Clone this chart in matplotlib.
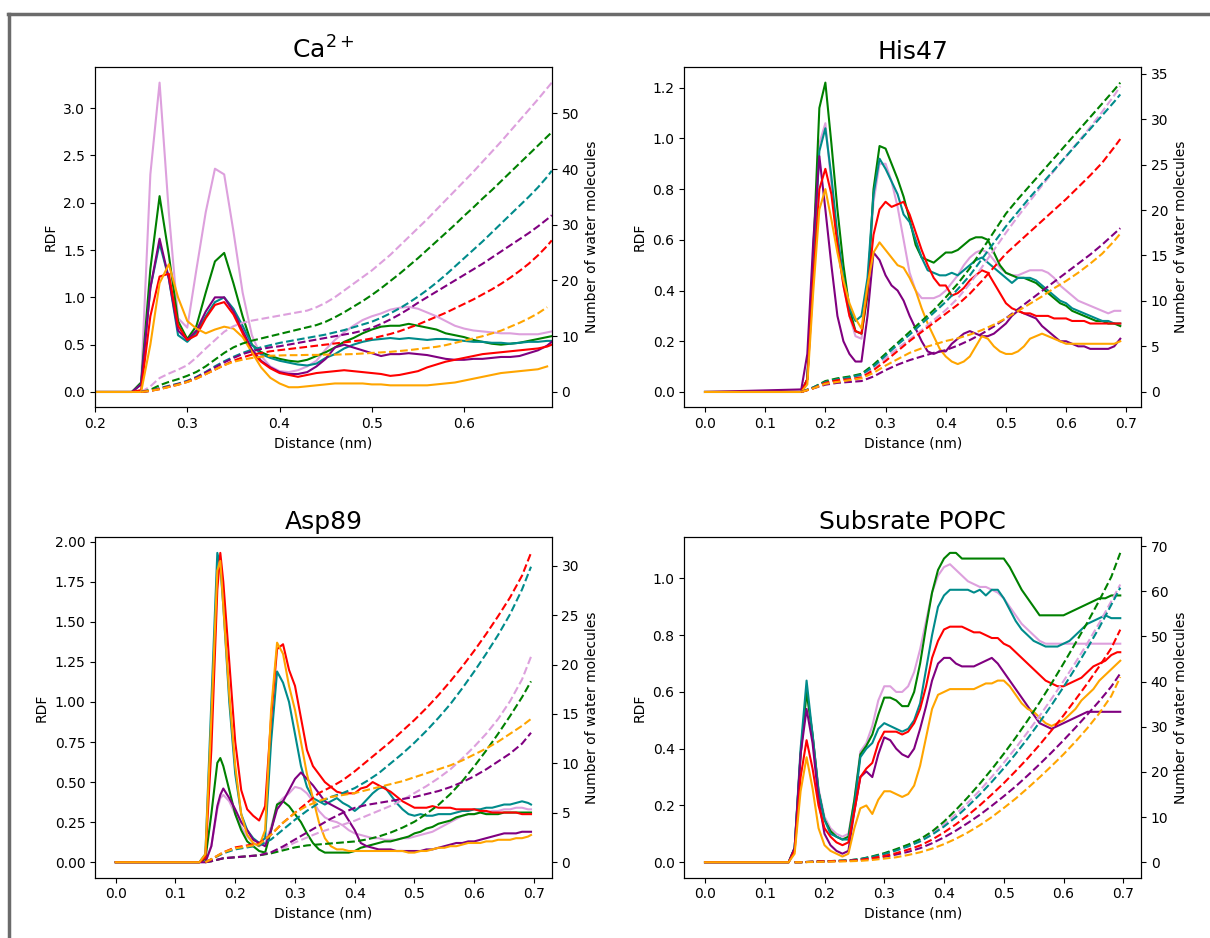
import matplotlib.pyplot as plt
from matplotlib.lines import Line2D
import numpy as np

colors = ["plum", "green", "darkcyan", "purple", "red", "orange"]

# ---- Ca2+ ----
ca_x = np.round(np.arange(0.20, 0.695, 0.01), 3).tolist() + [0.695]
ca_xn = np.round(np.arange(0.25, 0.695, 0.01), 3).tolist() + [0.695]
ca_rdf_plum = [0, 0, 0, 0, 0, 0.1, 2.3, 3.27, 1.9, 0.78, 0.68, 1.3, 1.9, 2.36, 2.3, 1.7, 1.05, 0.6, 0.38, 0.27, 0.22, 0.21, 0.23, 0.27, 0.33, 0.45, 0.55, 0.63, 0.7, 0.76, 0.8, 0.83, 0.87, 0.89, 0.9, 0.88, 0.84, 0.8, 0.75, 0.7, 0.67, 0.65, 0.64, 0.63, 0.62, 0.62, 0.61, 0.61, 0.61, 0.63, 0.64]
ca_rdf_green = [0, 0, 0, 0, 0, 0.1, 1.3, 2.07, 1.45, 0.75, 0.56, 0.7, 1.05, 1.38, 1.47, 1.15, 0.8, 0.5, 0.42, 0.38, 0.35, 0.33, 0.32, 0.34, 0.38, 0.42, 0.47, 0.53, 0.57, 0.62, 0.66, 0.69, 0.7, 0.7, 0.72, 0.7, 0.68, 0.66, 0.62, 0.6, 0.58, 0.55, 0.53, 0.51, 0.5, 0.51, 0.52, 0.54, 0.56, 0.58, 0.59]
ca_rdf_teal = [0, 0, 0, 0, 0, 0.08, 1.1, 1.57, 1.2, 0.6, 0.53, 0.63, 0.8, 0.95, 1.0, 0.88, 0.7, 0.5, 0.4, 0.36, 0.33, 0.31, 0.29, 0.28, 0.3, 0.36, 0.4, 0.46, 0.5, 0.53, 0.55, 0.56, 0.57, 0.56, 0.57, 0.56, 0.55, 0.56, 0.56, 0.55, 0.54, 0.53, 0.53, 0.52, 0.52, 0.51, 0.52, 0.53, 0.53, 0.54, 0.54]
ca_rdf_purple = [0, 0, 0, 0, 0, 0.08, 1.1, 1.62, 1.2, 0.65, 0.55, 0.65, 0.85, 1.0, 1.0, 0.85, 0.65, 0.45, 0.33, 0.26, 0.21, 0.19, 0.19, 0.21, 0.27, 0.35, 0.47, 0.5, 0.47, 0.44, 0.41, 0.38, 0.4, 0.4, 0.41, 0.4, 0.39, 0.37, 0.35, 0.34, 0.34, 0.35, 0.35, 0.36, 0.37, 0.37, 0.38, 0.41, 0.44, 0.49, 0.53]
ca_rdf_red = [0, 0, 0, 0, 0, 0.02, 0.8, 1.22, 1.25, 0.7, 0.55, 0.6, 0.78, 0.92, 0.95, 0.82, 0.62, 0.42, 0.32, 0.25, 0.2, 0.18, 0.16, 0.18, 0.2, 0.21, 0.22, 0.23, 0.22, 0.21, 0.2, 0.19, 0.17, 0.18, 0.2, 0.22, 0.26, 0.29, 0.32, 0.34, 0.36, 0.38, 0.4, 0.41, 0.42, 0.43, 0.44, 0.45, 0.46, 0.48, 0.5]
ca_rdf_orange = [0, 0, 0, 0, 0, 0.0, 0.5, 1.15, 1.35, 1.0, 0.75, 0.67, 0.62, 0.66, 0.69, 0.67, 0.58, 0.42, 0.26, 0.15, 0.09, 0.05, 0.05, 0.06, 0.07, 0.08, 0.09, 0.09, 0.09, 0.09, 0.08, 0.08, 0.07, 0.07, 0.07, 0.07, 0.07, 0.08, 0.09, 0.1, 0.12, 0.14, 0.16, 0.18, 0.2, 0.21, 0.22, 0.23, 0.24, 0.27, np.nan]
ca_num_plum = [0, 1.0, 2.5, 3.3, 4.0, 4.8, 6.2, 7.8, 9.3, 10.8, 11.8, 12.4, 12.8, 13.1, 13.4, 13.7, 14.0, 14.3, 14.6, 15.2, 16.0, 17.0, 18.2, 19.4, 20.6, 21.8, 23.2, 24.6, 26.2, 27.8, 29.4, 31.0, 32.7, 34.4, 36.1, 37.8, 39.5, 41.3, 43.1, 44.9, 46.8, 48.7, 50.6, 52.5, 54.5, 55.5]
ca_num_green = [0, 0.4, 1.2, 1.8, 2.3, 2.9, 3.6, 4.6, 5.8, 7.0, 8.0, 8.7, 9.2, 9.6, 10.0, 10.4, 10.8, 11.2, 11.6, 12.0, 12.6, 13.4, 14.3, 15.3, 16.3, 17.4, 18.6, 19.9, 21.2, 22.6, 24.0, 25.5, 27.0, 28.5, 30.0, 31.6, 33.1, 34.7, 36.2, 37.8, 39.4, 41.0, 42.6, 44.2, 45.8, 46.6]
ca_num_teal = [0, 0.2, 0.7, 1.1, 1.5, 2.0, 2.7, 3.6, 4.6, 5.5, 6.3, 7.0, 7.6, 8.0, 8.4, 8.8, 9.1, 9.4, 9.7, 10.0, 10.3, 10.7, 11.1, 11.6, 12.1, 12.6, 13.3, 14.1, 15.0, 16.0, 17.1, 18.3, 19.6, 21.0, 22.5, 24.0, 25.5, 27.0, 28.6, 30.2, 31.8, 33.4, 35.0, 36.7, 38.6, 39.7]
ca_num_purple = [0, 0.2, 0.6, 1.0, 1.4, 1.9, 2.6, 3.5, 4.4, 5.3, 6.1, 6.8, 7.3, 7.7, 8.0, 8.2, 8.5, 8.8, 9.1, 9.4, 9.7, 10.0, 10.3, 10.6, 11.0, 11.5, 12.2, 13.0, 13.9, 14.9, 16.0, 17.0, 18.0, 19.0, 20.0, 21.0, 22.0, 23.0, 24.1, 25.2, 26.3, 27.4, 28.5, 29.7, 31.0, 31.7]
ca_num_red = [0, 0.2, 0.5, 0.9, 1.3, 1.8, 2.4, 3.2, 4.0, 4.8, 5.6, 6.2, 6.7, 7.0, 7.3, 7.5, 7.7, 7.9, 8.1, 8.3, 8.5, 8.7, 8.9, 9.1, 9.3, 9.6, 10.0, 10.4, 10.9, 11.5, 12.1, 12.8, 13.5, 14.2, 15.0, 15.8, 16.6, 17.5, 18.4, 19.4, 20.5, 21.7, 23.0, 24.5, 26.2, 27.2]
ca_num_orange = [0, 0.2, 0.5, 0.9, 1.3, 1.8, 2.4, 3.2, 4.0, 4.8, 5.4, 5.8, 6.1, 6.3, 6.5, 6.55, 6.6, 6.6, 6.65, 6.65, 6.7, 6.7, 6.75, 6.8, 6.9, 7.0, 7.1, 7.2, 7.35, 7.5, 7.7, 7.9, 8.1, 8.4, 8.8, 9.2, 9.6, 10.0, 10.5, 11.0, 11.7, 12.4, 13.2, 14.1, 15.2, np.nan]

# ---- His47 ----
his_x = [0.0] + np.round(np.arange(0.16, 0.695, 0.01), 3).tolist()
his_xn = np.round(np.arange(0.16, 0.685, 0.02), 3).tolist() + [0.69]
his_rdf_plum = [0, 0.0, 0.05, 0.5, 0.98, 1.06, 0.82, 0.6, 0.42, 0.3, 0.22, 0.21, 0.42, 0.75, 0.9, 0.9, 0.83, 0.73, 0.6, 0.47, 0.4, 0.37, 0.37, 0.37, 0.38, 0.4, 0.43, 0.46, 0.5, 0.53, 0.55, 0.56, 0.55, 0.52, 0.49, 0.47, 0.46, 0.46, 0.47, 0.48, 0.48, 0.48, 0.47, 0.45, 0.42, 0.4, 0.38, 0.36, 0.35, 0.34, 0.33, 0.32, 0.31, 0.32, 0.32]
his_rdf_green = [0, 0.0, 0.05, 0.55, 1.12, 1.22, 0.98, 0.72, 0.5, 0.33, 0.24, 0.23, 0.38, 0.8, 0.97, 0.96, 0.9, 0.84, 0.77, 0.68, 0.58, 0.53, 0.52, 0.51, 0.53, 0.55, 0.55, 0.56, 0.58, 0.6, 0.61, 0.61, 0.6, 0.55, 0.5, 0.47, 0.46, 0.45, 0.45, 0.44, 0.43, 0.41, 0.39, 0.37, 0.35, 0.34, 0.32, 0.31, 0.3, 0.29, 0.28, 0.28, 0.27, 0.27, 0.26]
his_rdf_teal = [0, 0.0, 0.05, 0.5, 0.95, 1.04, 0.85, 0.62, 0.45, 0.33, 0.28, 0.3, 0.45, 0.78, 0.92, 0.88, 0.83, 0.78, 0.7, 0.67, 0.6, 0.53, 0.48, 0.47, 0.46, 0.46, 0.47, 0.46, 0.48, 0.5, 0.52, 0.53, 0.51, 0.49, 0.47, 0.45, 0.43, 0.45, 0.45, 0.45, 0.44, 0.42, 0.4, 0.38, 0.36, 0.35, 0.33, 0.32, 0.31, 0.3, 0.29, 0.28, 0.28, 0.27, 0.27]
his_rdf_purple = [0, 0.01, 0.15, 0.6, 0.93, 0.72, 0.5, 0.3, 0.2, 0.15, 0.12, 0.12, 0.3, 0.55, 0.52, 0.46, 0.42, 0.4, 0.36, 0.3, 0.25, 0.2, 0.16, 0.15, 0.16, 0.16, 0.19, 0.21, 0.23, 0.24, 0.23, 0.22, 0.22, 0.23, 0.25, 0.27, 0.3, 0.32, 0.31, 0.3, 0.29, 0.26, 0.24, 0.22, 0.2, 0.2, 0.19, 0.18, 0.18, 0.17, 0.17, 0.17, 0.17, 0.18, 0.21]
his_rdf_red = [0, 0.0, 0.05, 0.45, 0.8, 0.88, 0.78, 0.58, 0.42, 0.3, 0.24, 0.23, 0.4, 0.62, 0.72, 0.75, 0.73, 0.74, 0.75, 0.7, 0.63, 0.56, 0.5, 0.45, 0.42, 0.42, 0.38, 0.39, 0.41, 0.44, 0.46, 0.48, 0.47, 0.43, 0.39, 0.35, 0.33, 0.32, 0.31, 0.31, 0.3, 0.3, 0.3, 0.29, 0.29, 0.29, 0.28, 0.28, 0.28, 0.27, 0.27, 0.27, 0.27, 0.27, 0.27]
his_rdf_orange = [0, 0.0, 0.03, 0.4, 0.72, 0.8, 0.68, 0.55, 0.44, 0.35, 0.29, 0.25, 0.42, 0.55, 0.59, 0.56, 0.53, 0.5, 0.49, 0.45, 0.4, 0.33, 0.27, 0.22, 0.17, 0.14, 0.12, 0.11, 0.12, 0.14, 0.18, 0.22, 0.21, 0.18, 0.16, 0.15, 0.15, 0.16, 0.18, 0.21, 0.22, 0.23, 0.22, 0.21, 0.2, 0.19, 0.19, 0.19, 0.19, 0.19, 0.19, 0.19, 0.19, 0.19, 0.2]
his_num_plum = [0, 0.5, 1.1, 1.4, 1.6, 1.8, 2.6, 3.7, 4.8, 5.8, 6.8, 7.9, 9.0, 10.3, 11.9, 13.7, 15.6, 17.5, 19.3, 21.0, 22.7, 24.3, 25.9, 27.5, 29.1, 30.8, 32.6, 33.6]
his_num_green = [0, 0.5, 1.2, 1.5, 1.7, 2.0, 3.0, 4.2, 5.4, 6.6, 7.8, 9.0, 10.4, 11.9, 13.6, 15.6, 17.6, 19.6, 21.2, 22.7, 24.2, 25.7, 27.2, 28.7, 30.2, 31.7, 33.2, 34.0]
his_num_teal = [0, 0.5, 1.1, 1.4, 1.6, 1.9, 2.8, 4.0, 5.2, 6.3, 7.5, 8.7, 9.9, 11.3, 12.8, 14.6, 16.4, 18.2, 19.8, 21.4, 22.9, 24.4, 25.9, 27.4, 28.9, 30.4, 31.9, 32.7]
his_num_purple = [0, 0.4, 0.8, 1.0, 1.1, 1.2, 1.7, 2.4, 3.0, 3.5, 3.9, 4.3, 4.6, 5.1, 5.7, 6.4, 7.2, 8.1, 9.1, 10.1, 11.1, 12.1, 13.1, 14.1, 15.1, 16.2, 17.4, 18.0]
his_num_red = [0, 0.4, 1.0, 1.3, 1.4, 1.6, 2.4, 3.4, 4.5, 5.6, 6.6, 7.6, 8.6, 9.6, 10.8, 12.2, 13.7, 15.2, 16.4, 17.6, 18.8, 20.0, 21.2, 22.5, 23.8, 25.2, 26.9, 27.8]
his_num_orange = [0, 0.4, 0.9, 1.1, 1.3, 1.5, 2.1, 2.9, 3.6, 4.3, 4.8, 5.2, 5.6, 5.9, 6.3, 6.8, 7.4, 8.1, 8.9, 9.7, 10.5, 11.4, 12.2, 13.1, 14.1, 15.2, 16.6, 17.4]

# ---- Asp89 ----
asp_x = [0.0, 0.14, 0.15, 0.16, 0.17, 0.175] + np.round(np.arange(0.18, 0.695, 0.01), 3).tolist() + [0.695]
asp_xn = [0.15] + np.round(np.arange(0.16, 0.685, 0.02), 3).tolist() + [0.695]
asp_rdf_plum = [0, 0, 0.0, 0.1, 0.33, 0.4, 0.42, 0.38, 0.3, 0.22, 0.16, 0.12, 0.1, 0.12, 0.22, 0.36, 0.4, 0.43, 0.47, 0.46, 0.43, 0.38, 0.32, 0.28, 0.26, 0.25, 0.23, 0.2, 0.18, 0.17, 0.16, 0.15, 0.15, 0.14, 0.14, 0.14, 0.15, 0.15, 0.16, 0.17, 0.18, 0.19, 0.21, 0.23, 0.25, 0.27, 0.29, 0.3, 0.3, 0.31, 0.31, 0.32, 0.32, 0.33, 0.33, 0.34, 0.34, 0.33, 0.33]
asp_rdf_green = [0, 0, 0.02, 0.3, 0.62, 0.65, 0.6, 0.45, 0.3, 0.2, 0.13, 0.1, 0.07, 0.06, 0.2, 0.36, 0.38, 0.35, 0.3, 0.25, 0.18, 0.12, 0.08, 0.06, 0.06, 0.06, 0.06, 0.06, 0.07, 0.09, 0.1, 0.11, 0.12, 0.13, 0.13, 0.14, 0.15, 0.16, 0.18, 0.19, 0.21, 0.22, 0.24, 0.25, 0.26, 0.28, 0.29, 0.3, 0.3, 0.31, 0.3, 0.3, 0.3, 0.31, 0.31, 0.31, 0.31, 0.31, 0.31]
asp_rdf_teal = [0, 0, 0.05, 1.0, 1.93, 1.85, 1.6, 1.0, 0.55, 0.3, 0.2, 0.15, 0.12, 0.15, 0.75, 1.19, 1.12, 1.0, 0.8, 0.6, 0.47, 0.4, 0.38, 0.36, 0.38, 0.4, 0.37, 0.35, 0.32, 0.35, 0.39, 0.43, 0.46, 0.47, 0.42, 0.37, 0.33, 0.3, 0.29, 0.3, 0.29, 0.29, 0.3, 0.3, 0.3, 0.31, 0.32, 0.32, 0.33, 0.33, 0.34, 0.34, 0.35, 0.36, 0.36, 0.37, 0.38, 0.37, 0.36]
asp_rdf_purple = [0, 0, 0.0, 0.1, 0.35, 0.42, 0.46, 0.4, 0.33, 0.25, 0.2, 0.14, 0.12, 0.1, 0.2, 0.33, 0.38, 0.45, 0.52, 0.56, 0.52, 0.48, 0.43, 0.38, 0.36, 0.34, 0.32, 0.26, 0.2, 0.12, 0.1, 0.09, 0.08, 0.08, 0.08, 0.07, 0.07, 0.07, 0.07, 0.07, 0.08, 0.08, 0.09, 0.1, 0.11, 0.12, 0.12, 0.13, 0.13, 0.14, 0.15, 0.16, 0.17, 0.18, 0.18, 0.18, 0.19, 0.19, 0.19]
asp_rdf_red = [0, 0, 0.03, 0.7, 1.7, 1.93, 1.75, 1.25, 0.75, 0.45, 0.33, 0.29, 0.26, 0.35, 0.9, 1.33, 1.36, 1.2, 1.1, 0.9, 0.7, 0.6, 0.55, 0.5, 0.47, 0.44, 0.43, 0.43, 0.43, 0.46, 0.47, 0.5, 0.48, 0.46, 0.44, 0.41, 0.38, 0.36, 0.34, 0.34, 0.34, 0.35, 0.34, 0.34, 0.34, 0.33, 0.33, 0.33, 0.33, 0.32, 0.32, 0.31, 0.31, 0.31, 0.31, 0.31, 0.3, 0.3, 0.3]
asp_rdf_orange = [0, 0, 0.05, 0.9, 1.82, 1.88, 1.6, 1.05, 0.6, 0.3, 0.17, 0.12, 0.1, 0.2, 0.95, 1.37, 1.3, 1.1, 0.95, 0.75, 0.55, 0.4, 0.25, 0.15, 0.1, 0.08, 0.08, 0.07, 0.07, 0.07, 0.07, 0.07, 0.07, 0.07, 0.07, 0.07, 0.07, 0.06, 0.06, 0.07, 0.07, 0.08, 0.09, 0.09, 0.1, 0.1, 0.11, 0.12, 0.12, 0.12, 0.13, 0.13, 0.14, 0.14, 0.14, 0.15, 0.15, 0.16, 0.17]
asp_num_plum = [0, 0.1, 0.4, 0.5, 0.6, 0.7, 1.0, 1.4, 2.0, 2.5, 3.0, 3.4, 3.8, 4.2, 4.7, 5.2, 5.7, 6.3, 7.0, 7.7, 8.5, 9.4, 10.5, 11.7, 13.0, 14.5, 16.3, 18.5, 20.8]
asp_num_green = [0, 0.1, 0.4, 0.5, 0.6, 0.7, 0.9, 1.2, 1.5, 1.7, 1.8, 1.9, 2.0, 2.1, 2.3, 2.6, 3.0, 3.5, 4.1, 4.9, 5.8, 6.9, 8.2, 9.7, 11.3, 13.0, 14.8, 16.7, 18.3]
asp_num_teal = [0, 0.3, 0.9, 1.3, 1.5, 1.7, 2.3, 3.3, 4.3, 5.2, 6.0, 6.6, 7.0, 7.5, 8.2, 9.0, 10.0, 11.0, 12.1, 13.3, 14.6, 16.0, 17.6, 19.3, 21.1, 23.0, 25.1, 27.6, 29.9]
asp_num_purple = [0, 0.1, 0.4, 0.5, 0.6, 0.7, 1.0, 1.6, 2.3, 3.0, 3.7, 4.4, 5.0, 5.5, 5.8, 6.0, 6.2, 6.4, 6.6, 6.9, 7.2, 7.6, 8.1, 8.7, 9.4, 10.2, 11.0, 12.0, 13.1]
asp_num_red = [0, 0.3, 1.0, 1.5, 1.7, 1.9, 2.8, 4.0, 5.0, 6.0, 7.0, 7.6, 8.3, 9.2, 10.2, 11.2, 12.2, 13.3, 14.4, 15.6, 16.9, 18.3, 19.8, 21.4, 23.1, 24.9, 26.8, 29.0, 31.3]
asp_num_orange = [0, 0.3, 1.0, 1.4, 1.6, 1.8, 2.8, 4.0, 5.0, 5.7, 6.2, 6.6, 6.8, 7.0, 7.3, 7.6, 7.9, 8.2, 8.6, 9.0, 9.4, 9.8, 10.3, 10.9, 11.5, 12.2, 13.0, 13.8, 14.5]

# ---- Subsrate POPC ----
popc_x = [0.0] + np.round(np.arange(0.14, 0.695, 0.01), 3).tolist() + [0.695]
popc_xn = [0.15] + np.round(np.arange(0.16, 0.685, 0.02), 3).tolist() + [0.695]
popc_rdf_plum = [0, 0, 0.05, 0.38, 0.6, 0.45, 0.26, 0.16, 0.12, 0.1, 0.09, 0.1, 0.22, 0.39, 0.42, 0.48, 0.57, 0.62, 0.62, 0.6, 0.6, 0.62, 0.67, 0.75, 0.85, 0.95, 1.01, 1.04, 1.05, 1.03, 1.01, 0.99, 0.98, 0.97, 0.97, 0.96, 0.95, 0.93, 0.9, 0.87, 0.84, 0.82, 0.8, 0.78, 0.77, 0.77, 0.77, 0.77, 0.77, 0.77, 0.77, 0.77, 0.77, 0.77, 0.77, 0.77, 0.77, 0.77]
popc_rdf_green = [0, 0, 0.05, 0.38, 0.6, 0.45, 0.25, 0.15, 0.11, 0.09, 0.08, 0.09, 0.22, 0.38, 0.41, 0.45, 0.52, 0.58, 0.58, 0.57, 0.55, 0.55, 0.6, 0.7, 0.83, 0.95, 1.03, 1.07, 1.09, 1.09, 1.07, 1.07, 1.07, 1.07, 1.07, 1.07, 1.07, 1.07, 1.04, 1.0, 0.96, 0.93, 0.9, 0.87, 0.87, 0.87, 0.87, 0.87, 0.88, 0.89, 0.9, 0.91, 0.92, 0.93, 0.93, 0.94, 0.94, 0.94]
popc_rdf_teal = [0, 0, 0.05, 0.4, 0.64, 0.45, 0.25, 0.15, 0.1, 0.09, 0.08, 0.08, 0.2, 0.37, 0.4, 0.42, 0.47, 0.49, 0.48, 0.47, 0.46, 0.47, 0.5, 0.56, 0.68, 0.8, 0.9, 0.94, 0.96, 0.96, 0.96, 0.96, 0.95, 0.96, 0.94, 0.96, 0.96, 0.93, 0.89, 0.85, 0.82, 0.8, 0.78, 0.77, 0.76, 0.76, 0.76, 0.77, 0.78, 0.8, 0.82, 0.84, 0.85, 0.86, 0.87, 0.86, 0.86, 0.86]
popc_rdf_purple = [0, 0, 0.05, 0.38, 0.54, 0.42, 0.22, 0.1, 0.06, 0.04, 0.03, 0.04, 0.18, 0.3, 0.32, 0.3, 0.38, 0.44, 0.43, 0.4, 0.38, 0.37, 0.4, 0.47, 0.55, 0.64, 0.7, 0.72, 0.72, 0.7, 0.69, 0.69, 0.69, 0.7, 0.71, 0.72, 0.7, 0.67, 0.64, 0.61, 0.58, 0.55, 0.52, 0.49, 0.48, 0.47, 0.48, 0.49, 0.5, 0.51, 0.52, 0.53, 0.53, 0.53, 0.53, 0.53, 0.53, 0.53]
popc_rdf_red = [0, 0, 0.04, 0.3, 0.43, 0.33, 0.2, 0.12, 0.09, 0.07, 0.06, 0.07, 0.18, 0.3, 0.33, 0.35, 0.42, 0.46, 0.46, 0.46, 0.45, 0.46, 0.49, 0.54, 0.62, 0.72, 0.78, 0.82, 0.83, 0.83, 0.83, 0.82, 0.81, 0.81, 0.8, 0.79, 0.79, 0.77, 0.76, 0.74, 0.72, 0.7, 0.68, 0.66, 0.64, 0.63, 0.62, 0.62, 0.63, 0.64, 0.65, 0.67, 0.69, 0.7, 0.71, 0.73, 0.74, 0.74]
popc_rdf_orange = [0, 0, 0.03, 0.25, 0.37, 0.26, 0.12, 0.06, 0.04, 0.03, 0.02, 0.03, 0.12, 0.19, 0.2, 0.17, 0.22, 0.25, 0.25, 0.24, 0.23, 0.24, 0.27, 0.34, 0.44, 0.54, 0.59, 0.6, 0.61, 0.61, 0.61, 0.61, 0.61, 0.62, 0.63, 0.63, 0.64, 0.64, 0.62, 0.59, 0.56, 0.54, 0.53, 0.51, 0.49, 0.48, 0.49, 0.5, 0.52, 0.54, 0.57, 0.59, 0.61, 0.64, 0.66, 0.68, 0.7, 0.71]
popc_num_plum = [0, 0, 0.1, 0.2, 0.3, 0.4, 0.7, 1.2, 1.9, 2.7, 3.6, 4.8, 6.4, 8.4, 10.7, 13.2, 15.9, 18.9, 22.0, 25.3, 28.8, 32.4, 36.2, 40.1, 44.2, 48.5, 53.0, 57.8, 61.5]
popc_num_green = [0, 0, 0.1, 0.2, 0.3, 0.4, 0.7, 1.3, 2.0, 2.9, 3.9, 5.1, 6.8, 9.0, 11.6, 14.4, 17.4, 20.6, 24.0, 27.6, 31.4, 35.4, 39.6, 44.0, 48.5, 53.1, 58.0, 63.2, 68.5]
popc_num_teal = [0, 0, 0.1, 0.2, 0.3, 0.4, 0.7, 1.2, 1.8, 2.6, 3.5, 4.6, 6.1, 7.9, 10.0, 12.4, 15.0, 17.8, 20.8, 24.0, 27.4, 31.0, 34.8, 38.8, 43.0, 47.4, 52.0, 57.0, 60.8]
popc_num_purple = [0, 0, 0.1, 0.2, 0.25, 0.3, 0.45, 0.8, 1.2, 1.7, 2.3, 3.1, 4.2, 5.5, 7.0, 8.7, 10.5, 12.5, 14.6, 16.8, 19.2, 21.7, 24.3, 27.0, 29.8, 32.7, 35.7, 38.9, 41.8]
popc_num_red = [0, 0, 0.1, 0.2, 0.25, 0.3, 0.5, 0.9, 1.4, 2.0, 2.8, 3.7, 5.0, 6.6, 8.4, 10.4, 12.6, 15.0, 17.5, 20.2, 23.0, 26.0, 29.2, 32.5, 36.0, 39.6, 43.4, 47.4, 51.5]
popc_num_orange = [0, 0, 0.05, 0.1, 0.15, 0.2, 0.3, 0.5, 0.8, 1.1, 1.6, 2.2, 3.0, 4.0, 5.2, 6.6, 8.2, 10.0, 12.0, 14.1, 16.4, 18.8, 21.3, 23.9, 26.7, 29.7, 33.0, 36.8, 41.0]

panels = [
    (r"Ca$^{2+}$", ca_x, [ca_rdf_plum, ca_rdf_green, ca_rdf_teal, ca_rdf_purple, ca_rdf_red, ca_rdf_orange],
     ca_xn, [ca_num_plum, ca_num_green, ca_num_teal, ca_num_purple, ca_num_red, ca_num_orange]),
    ("His47", his_x, [his_rdf_plum, his_rdf_green, his_rdf_teal, his_rdf_purple, his_rdf_red, his_rdf_orange],
     his_xn, [his_num_plum, his_num_green, his_num_teal, his_num_purple, his_num_red, his_num_orange]),
    ("Asp89", asp_x, [asp_rdf_plum, asp_rdf_green, asp_rdf_teal, asp_rdf_purple, asp_rdf_red, asp_rdf_orange],
     asp_xn, [asp_num_plum, asp_num_green, asp_num_teal, asp_num_purple, asp_num_red, asp_num_orange]),
    ("Subsrate POPC", popc_x, [popc_rdf_plum, popc_rdf_green, popc_rdf_teal, popc_rdf_purple, popc_rdf_red, popc_rdf_orange],
     popc_xn, [popc_num_plum, popc_num_green, popc_num_teal, popc_num_purple, popc_num_red, popc_num_orange]),
]

fig, axs = plt.subplots(2, 2, figsize=(12.1, 9.38), dpi=100)
fig.subplots_adjust(left=0.0785, right=0.943, bottom=0.0643, top=0.9284, wspace=0.29, hspace=0.382)

for ax, (title, x, rdfs, xn, nums) in zip(axs.flat, panels):
    ax2 = ax.twinx()
    for c, r in zip(colors, rdfs):
        ax.plot(x, r, color=c, linewidth=1.5)
    for c, n in zip(colors, nums):
        ax2.plot(xn, n, color=c, linewidth=1.5, linestyle="--")
    ax.set_title(title, fontsize=18)
    ax.set_xlabel("Distance (nm)")
    ax.set_ylabel("RDF")
    ax2.set_ylabel("Number of water molecules")

# Ca panel starts at 0.2 with no margin
axs[0, 0].set_xlim(ca_x[0], ca_x[-1])

# grey frame of the screenshot
fig.add_artist(Line2D([0.0068, 1.0], [0.985, 0.985], transform=fig.transFigure, color="#6b6b6b", linewidth=2.5))
fig.add_artist(Line2D([0.0078, 0.0078], [0.0, 0.985], transform=fig.transFigure, color="#6b6b6b", linewidth=2.5))

plt.savefig("out.png", dpi=100)
